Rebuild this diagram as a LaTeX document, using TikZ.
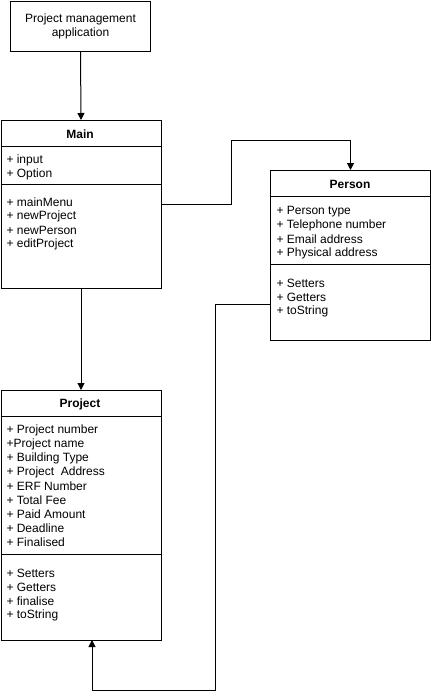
\documentclass[tikz,border=0pt]{standalone}
\usepackage{fontspec}
\setmainfont{Liberation Sans}
\usetikzlibrary{arrows.meta}
\begin{document}
\begin{tikzpicture}[x=1pt,y=-1pt,line width=1pt,
  box/.style={draw,inner sep=0pt,anchor=north west},
  title/.style={font=\fontsize{12}{14}\selectfont\bfseries,anchor=center,inner sep=0pt},
  item/.style={font=\fontsize{12}{14}\selectfont,anchor=west,inner sep=0pt,yshift=-1.5pt},
  conn/.style={-{Triangle[width=7pt,length=7pt]}}]
\useasboundingbox (0,0) rectangle (431,699);
% application box
\node[box,minimum width=140pt,minimum height=50pt,align=center,font=\fontsize{12}{14}\selectfont] (app) at (10,0.5) {Project management\\application};
% Main
\node[box,minimum width=160pt,minimum height=168pt] (main) at (0.5,120) {};
\node[title] (mainT) at (80,134) {Main};
\draw (0.5,146) -- (160.5,146);
\draw (0.5,184) -- (160.5,184);
\node[item] (m1) at (6,159) {+ input};
\node[item] (m2) at (6,173) {+ Option};
\node[item] (m3) at (6,201) {+ mainMenu};
\node[item] (m4) at (6,215) {+ newProject};
\node[item] (m5) at (6,229) {+ newPerson};
\node[item] (m6) at (6,243) {+ editProject};
% Person
\node[box,minimum width=160pt,minimum height=170pt] (person) at (270,170) {};
\node[title] (personT) at (350,184) {Person};
\draw (270,196) -- (430,196);
\draw (270,264) -- (430,264);
\node[item] (p1) at (276,210) {+ Person type};
\node[item] (p2) at (276,224) {+ Telephone number};
\node[item] (p3) at (276,238) {+ Email address};
\node[item] (p4) at (276,252) {+ Physical address};
\node[item] (p5) at (276,282) {+ Setters};
\node[item] (p6) at (276,296) {+ Getters};
\node[item] (p7) at (276,310) {+ toString};
% Project
\node[box,minimum width=160pt,minimum height=250pt] (project) at (0.5,390) {};
\node[title] (projectT) at (80,404) {Project};
\draw (0.5,416) -- (160.5,416);
\draw (0.5,554) -- (160.5,554);
\node[item] (q1) at (6,429) {+ Project number};
\node[item] (q2) at (6,443) {+Project name};
\node[item] (q3) at (6,457) {+ Building Type};
\node[item] (q4) at (6,471) {+ Project\ \ Address};
\node[item] (q5) at (6,485) {+ ERF Number};
\node[item] (q6) at (6,499) {+ Total Fee};
\node[item] (q7) at (6,513) {+ Paid Amount};
\node[item] (q8) at (6,527) {+ Deadline};
\node[item] (q9) at (6,541) {+ Finalised};
\node[item] (q10) at (6,572) {+ Setters};
\node[item] (q11) at (6,586) {+ Getters};
\node[item] (q12) at (6,600) {+ finalise};
\node[item] (q13) at (6,614) {+ toString};
% connectors
\draw[conn] (app.south) -- (main.north);
\draw[conn] (main.east) -| (231,140) -| (person.north);
\draw[conn] (main.south) -- (project.north);
\coordinate (pl) at (270,304);
\coordinate (pb) at (92,640);
\draw[conn] (pl) -- (215,304) -- (215,690) -- (92,690) -- (pb);
\end{tikzpicture}
\end{document}
